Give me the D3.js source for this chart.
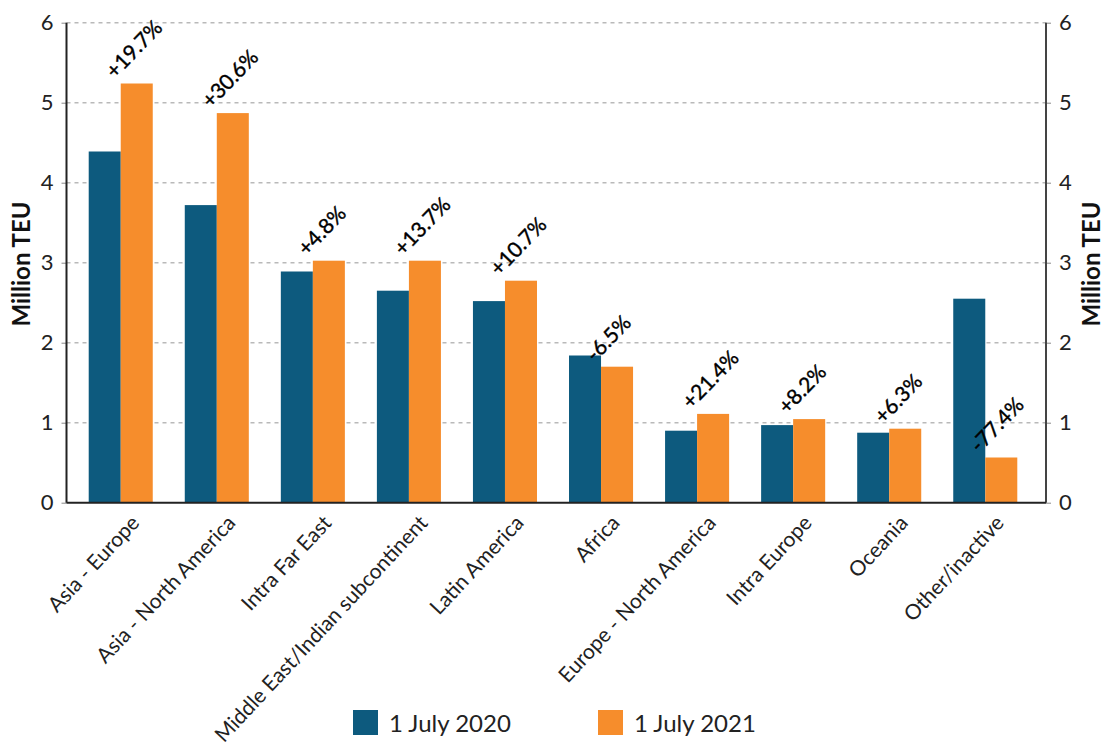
<!DOCTYPE html>
<html>
<head>
<meta charset="utf-8">
<script src="https://cdn.jsdelivr.net/npm/d3@7/dist/d3.min.js"></script>
<style>
  html, body { margin: 0; padding: 0; background: #fff; }
  svg { display: block; font-family: Lato, "Open Sans", sans-serif; }
</style>
</head>
<body>
<svg id="chart" width="1104" height="749"></svg>
<script>
const categories = ["Asia - Europe", "Asia - North America", "Intra Far East", "Middle East/Indian subcontinent", "Latin America", "Africa", "Europe - North America", "Intra Europe", "Oceania", "Other/inactive"];
const seriesNames = ["1 July 2020", "1 July 2021"];
const values2020 = [4.39, 3.72, 2.89, 2.65, 2.52, 1.84, 0.90, 0.97, 0.875, 2.55];
const values2021 = [5.24, 4.87, 3.025, 3.025, 2.775, 1.70, 1.11, 1.045, 0.925, 0.565];
const changeLabels = ["+19.7%", "+30.6%", "+4.8%", "+13.7%", "+10.7%", "-6.5%", "+21.4%", "+8.2%", "+6.3%", "-77.4%"];
const yTicks = [0, 1, 2, 3, 4, 5, 6];
const colors = ["#0d5a7e", "#f68d2c"];

const svg = d3.select("#chart");
const axisLeftX = 66.5, axisRightX = 1046;
const y = d3.scaleLinear().domain([0, 6]).range([502.7, 22.7]);
const x0 = d3.scaleBand().domain(categories).range([72.7, 1033.3]).paddingInner(1/3).paddingOuter(1/6);
const x1 = d3.scaleBand().domain(seriesNames).range([0, x0.bandwidth()]);

// gridlines
svg.append("g").selectAll("line").data(yTicks.filter(d => d > 0)).join("line")
  .attr("x1", axisLeftX).attr("x2", axisRightX)
  .attr("y1", d => y(d)).attr("y2", d => y(d))
  .attr("stroke", "#b9b9b9").attr("stroke-width", 1.5).attr("stroke-dasharray", "4,4");

// bars
const rows = categories.map((c, i) => ({cat: c, vals: [values2020[i], values2021[i]], label: changeLabels[i]}));
const groups = svg.append("g").selectAll("g").data(rows).join("g")
  .attr("transform", d => `translate(${x0(d.cat)},0)`);
groups.selectAll("rect").data(d => d.vals.map((v, k) => ({v, k}))).join("rect")
  .attr("x", d => x1(seriesNames[d.k]))
  .attr("width", x1.bandwidth())
  .attr("y", d => y(d.v))
  .attr("height", d => y(0) - y(d.v))
  .attr("fill", d => colors[d.k]);

// change labels
svg.append("g").selectAll("text").data(rows).join("text")
  .attr("transform", d => `translate(${x0(d.cat) + x0.bandwidth() / 2 - 6},${y(d.vals[1]) - 4}) rotate(-46)`)
  .attr("text-anchor", "start")
  .attr("font-size", 21).attr("fill", "#000")
  .attr("stroke", "#000").attr("stroke-width", 0.4)
  .text(d => d.label);

// axes
const leftAxis = svg.append("g").attr("transform", `translate(${axisLeftX},0)`)
  .call(d3.axisLeft(y).tickValues(yTicks).tickFormat(d3.format("d")).tickSize(5).tickPadding(8));
const rightAxis = svg.append("g").attr("transform", `translate(${axisRightX},0)`)
  .call(d3.axisRight(y).tickValues(yTicks).tickFormat(d3.format("d")).tickSize(5).tickPadding(8));
[leftAxis, rightAxis].forEach(a => {
  a.select(".domain").remove();
  a.selectAll(".tick line").attr("stroke", "#888");
  a.selectAll(".tick text").attr("font-size", 22).attr("fill", "#222").attr("font-family", "Lato, sans-serif");
});
svg.append("line").attr("x1", axisLeftX).attr("x2", axisLeftX).attr("y1", y(6)).attr("y2", y(0)).attr("stroke", "#222").attr("stroke-width", 2);
svg.append("line").attr("x1", axisRightX).attr("x2", axisRightX).attr("y1", y(6)).attr("y2", y(0)).attr("stroke", "#444").attr("stroke-width", 2);

// bottom axis
const bottom = svg.append("g").attr("transform", `translate(0,${y(0)})`)
  .call(d3.axisBottom(x0).tickSize(0).tickFormat(""));
bottom.select(".domain").attr("stroke", "#222").attr("stroke-width", 2)
  .attr("d", `M${axisLeftX},0H${axisRightX}`);

// category labels
svg.append("g").selectAll("text").data(categories).join("text")
  .attr("transform", d => `translate(${x0(d) + x0.bandwidth() / 2 + 9},${y(0) + 11}) rotate(-47)`)
  .attr("text-anchor", "end").attr("dy", "0.71em")
  .attr("font-size", 21).attr("fill", "#222")
  .text(d => d);

// axis titles
svg.append("text").attr("transform", `translate(30,264) rotate(-90)`)
  .attr("text-anchor", "middle").attr("font-size", 24).attr("font-weight", 700).attr("fill", "#111")
  .text("Million TEU");
svg.append("text").attr("transform", `translate(1100,264) rotate(-90)`)
  .attr("text-anchor", "middle").attr("font-size", 24).attr("font-weight", 700).attr("fill", "#111")
  .text("Million TEU");

// legend
const legendX = [353, 598];
const legend = svg.append("g").selectAll("g").data(seriesNames).join("g")
  .attr("transform", (d, i) => `translate(${legendX[i]},710)`);
legend.append("rect").attr("width", 25).attr("height", 25).attr("fill", (d, i) => colors[i]);
legend.append("text").attr("x", 36).attr("y", 22).attr("font-size", 24).attr("fill", "#222").text(d => d);
</script>
</body>
</html>
